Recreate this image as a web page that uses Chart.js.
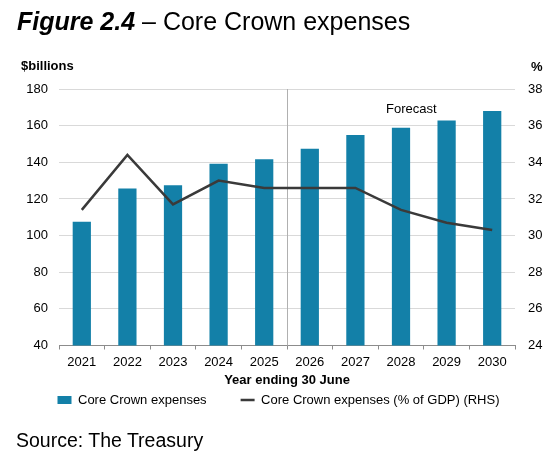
<!DOCTYPE html>
<html>
<head>
<meta charset="utf-8">
<script src="https://cdn.jsdelivr.net/npm/chart.js@4"></script>
<style>
  html, body { margin: 0; padding: 0; background: #fff; }
  body { width: 557px; height: 459px; position: relative; overflow: hidden; font-family: "Liberation Sans", Arial, sans-serif; }
  #wrap { position: absolute; left: 0; top: 0; width: 557px; height: 459px; }
  .t { position: absolute; white-space: nowrap; color: #000; }
  #title { left: 17px; top: 7px; font-size: 25px; }
  #title b { font-style: italic; font-weight: bold; }
  #ylab { left: 21px; top: 58px; font-size: 13px; font-weight: bold; }
  #y2lab { left: 531px; top: 59px; font-size: 13px; font-weight: bold; }
  #fc { left: 386px; top: 101px; font-size: 13px; }
  #src { left: 16px; top: 429px; font-size: 19.5px; }
</style>
</head>
<body>
<div id="wrap"><canvas id="c"></canvas></div>
<div class="t" id="title"><b>Figure 2.4</b> – Core Crown expenses</div>
<div class="t" id="ylab">$billions</div>
<div class="t" id="y2lab">%</div>
<div class="t" id="fc">Forecast</div>
<div class="t" id="src">Source: The Treasury</div>
<script>
const years = ["2021","2022","2023","2024","2025","2026","2027","2028","2029","2030"];
const coreCrownExpenses = [107.6, 125.7, 127.5, 139.2, 141.7, 147.4, 154.9, 158.8, 162.8, 168.0];
const coreCrownPctGdp = [31.4, 34.4, 31.7, 33.0, 32.6, 32.6, 32.6, 31.4, 30.7, 30.3];
const leftTicks = [40, 60, 80, 100, 120, 140, 160, 180];
const rightTicks = [24, 26, 28, 30, 32, 34, 36, 38];
const forecastStartIndex = 5;

const FONT = "'Liberation Sans', Arial, sans-serif";

const dividerPlugin = {
  id: 'divider',
  afterLayout(chart) {
    // pull the legend up so it sits just under the axis title
    const lg = chart.legend;
    if (lg) {
      const target = chart.chartArea.bottom + 14;
      const d = lg.top - target;
      lg.top -= d;
      lg.bottom -= d;
    }
  },
  beforeDatasetsDraw(chart) {
    const x = chart.scales.x;
    const a = chart.chartArea;
    const px = (x.getPixelForValue(forecastStartIndex - 1) + x.getPixelForValue(forecastStartIndex)) / 2;
    const ctx = chart.ctx;
    ctx.save();
    ctx.strokeStyle = '#b0b0b0';
    ctx.lineWidth = 1;
    ctx.beginPath();
    ctx.moveTo(Math.round(px) + 0.5, a.top);
    ctx.lineTo(Math.round(px) + 0.5, a.bottom);
    ctx.stroke();
    ctx.restore();
  }
};

new Chart(document.getElementById('c'), {
  data: {
    labels: years,
    datasets: [
      {
        type: 'line',
        label: 'Core Crown expenses (% of GDP) (RHS)',
        data: coreCrownPctGdp,
        yAxisID: 'y2',
        borderColor: '#3a3a3a',
        backgroundColor: '#3a3a3a',
        borderWidth: 2.5,
        pointRadius: 0,
        pointStyle: 'line',
        tension: 0,
        order: 0
      },
      {
        type: 'bar',
        label: 'Core Crown expenses',
        data: coreCrownExpenses,
        yAxisID: 'y',
        backgroundColor: '#1380a8',
        borderWidth: 0,
        barPercentage: 0.4,
        categoryPercentage: 1.0,
        pointStyle: 'rect',
        order: 1
      }
    ]
  },
  options: {
    responsive: true,
    maintainAspectRatio: false,
    animation: false,
    devicePixelRatio: 1,
    layout: { padding: { left: 0, right: 0, top: 89, bottom: 10.5 } },
    plugins: {
      legend: {
        position: 'bottom',
        reverse: true,
        labels: {
          usePointStyle: true,
          pointStyleWidth: 14,
          boxHeight: 8,
          padding: 34,
          color: '#000',
          font: { family: FONT, size: 13 }
        }
      },
      tooltip: { enabled: false }
    },
    scales: {
      x: {
        type: 'category',
        offset: true,
        afterFit(s) { s.height = 46; },
        grid: { display: true, drawOnChartArea: false, drawTicks: true, tickLength: 4, color: '#8c8c8c', offset: true },
        border: { display: true, color: '#8c8c8c', width: 1 },
        ticks: { color: '#000', font: { family: FONT, size: 13 }, padding: 5, maxRotation: 0, autoSkip: false },
        title: { display: true, text: 'Year ending 30 June', color: '#000', font: { family: FONT, size: 13, weight: 'bold' }, padding: { top: 0, bottom: 3.7 } }
      },
      y: {
        type: 'linear',
        position: 'left',
        min: 40, max: 180,
        afterBuildTicks(s) { s.ticks = leftTicks.map(v => ({ value: v })); },
        afterFit(s) { s.width = 59; },
        grid: { color: '#d9d9d9', drawTicks: false, lineWidth: 1 },
        border: { display: false },
        ticks: { color: '#000', font: { family: FONT, size: 13 }, padding: 11 }
      },
      y2: {
        type: 'linear',
        position: 'right',
        min: 24, max: 38,
        afterBuildTicks(s) { s.ticks = rightTicks.map(v => ({ value: v })); },
        afterFit(s) { s.width = 42; },
        grid: { display: false, drawTicks: false },
        border: { display: false },
        ticks: { color: '#000', font: { family: FONT, size: 13 }, padding: 13 }
      }
    }
  },
  plugins: [dividerPlugin]
});
</script>
</body>
</html>
